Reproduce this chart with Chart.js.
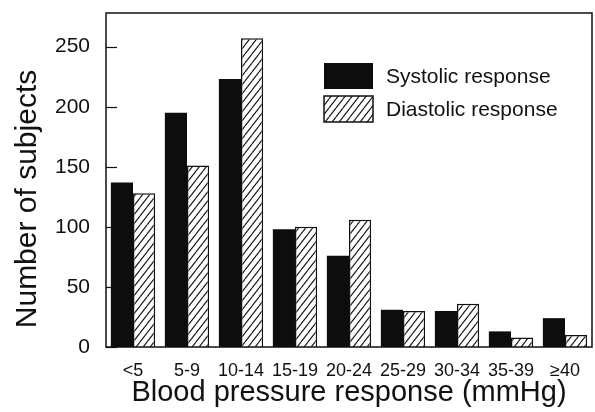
<!DOCTYPE html>
<html>
<head>
<meta charset="utf-8">
<script src="https://cdn.jsdelivr.net/npm/chart.js@4/dist/chart.umd.min.js"></script>
<style>
    html, body { margin: 0; padding: 0; background: #fff; }
    #wrap { width: 595px; height: 412px; }
</style>
</head>
<body>
<div id="wrap"><canvas id="chart" width="595" height="412"></canvas></div>
<script>
// Data
const categories = ['<5', '5-9', '10-14', '15-19', '20-24', '25-29', '30-34', '35-39', '\u226540'];
const systolic = [137, 195, 223, 98, 76, 31, 30, 13, 24];
const diastolic = [128, 151, 257, 100, 106, 30, 36, 8, 10];
const yTicks = [0, 50, 100, 150, 200, 250];
const yMax = 278;

const FONT = '"Liberation Sans", Arial, Helvetica, sans-serif';
const INK = '#111';

// Diagonal hatch fill for the diastolic bars
function makeHatch() {
    const c = document.createElement('canvas');
    c.width = 7;
    c.height = 9;
    const g = c.getContext('2d');
    g.fillStyle = '#fff';
    g.fillRect(0, 0, 7, 9);
    g.strokeStyle = INK;
    g.lineWidth = 1.1;
    [-7, 0, 7].forEach(dx => {
        g.beginPath();
        g.moveTo(dx, 9);
        g.lineTo(dx + 7, 0);
        g.stroke();
    });
    return g.createPattern(c, 'repeat');
}
const hatch = makeHatch();

// Box round the plot, inward ticks, rotated y title and the legend
const decorations = {
    id: 'decorations',
    afterDraw(chart) {
        const ctx = chart.ctx;
        const area = chart.chartArea;
        const yScale = chart.scales.y;
        ctx.save();

        ctx.strokeStyle = INK;
        ctx.lineWidth = 1.5;
        ctx.strokeRect(area.left, area.top, area.right - area.left, area.bottom - area.top);

        ctx.lineWidth = 1.2;
        yTicks.forEach(v => {
            const py = Math.round(yScale.getPixelForValue(v)) + 0.5;
            ctx.beginPath();
            ctx.moveTo(area.left, py);
            ctx.lineTo(area.left + 11, py);
            ctx.stroke();
        });

        // y axis title
        ctx.fillStyle = INK;
        ctx.font = '30px ' + FONT;
        ctx.textAlign = 'center';
        ctx.textBaseline = 'middle';
        ctx.translate(28, 199);
        ctx.rotate(-Math.PI / 2);
        ctx.fillText('Number of subjects', 0, 0);
        ctx.setTransform(1, 0, 0, 1, 0, 0);

        // legend
        const boxX = 324, boxY = 63, boxW = 49, boxH = 26, rowGap = 33;
        ctx.font = '21px ' + FONT;
        ctx.textAlign = 'left';
        chart.data.datasets.forEach((ds, i) => {
            const y = boxY + i * rowGap;
            ctx.fillStyle = ds.backgroundColor;
            ctx.fillRect(boxX, y, boxW, boxH);
            if (ds.borderWidth) {
                ctx.strokeStyle = ds.borderColor;
                ctx.lineWidth = 1.5;
                ctx.strokeRect(boxX, y, boxW, boxH);
            }
            ctx.fillStyle = INK;
            ctx.fillText(ds.label, 386, y + boxH / 2 + 1);
        });

        ctx.restore();
    }
};

new Chart(document.getElementById('chart'), {
    type: 'bar',
    data: {
        labels: categories,
        datasets: [
            {
                label: 'Systolic response',
                data: systolic,
                backgroundColor: '#0d0d0d',
                borderWidth: 0,
                categoryPercentage: 0.82,
                barPercentage: 1
            },
            {
                label: 'Diastolic response',
                data: diastolic,
                backgroundColor: hatch,
                borderColor: INK,
                borderWidth: 1.5,
                borderSkipped: 'bottom',
                categoryPercentage: 0.82,
                barPercentage: 1
            }
        ]
    },
    options: {
        responsive: false,
        animation: false,
        devicePixelRatio: 1,
        layout: {
            padding: { top: 13, right: 3, left: 0, bottom: 0 }
        },
        plugins: {
            legend: { display: false },
            tooltip: { enabled: false }
        },
        scales: {
            x: {
                grid: { display: false, drawTicks: false },
                border: { display: false },
                ticks: {
                    color: INK,
                    padding: 13,
                    maxRotation: 0,
                    autoSkip: false,
                    font: { family: FONT, size: 18 }
                },
                title: {
                    display: true,
                    text: 'Blood pressure response (mmHg)',
                    color: INK,
                    padding: { top: 0, bottom: 2 },
                    font: { family: FONT, size: 29 }
                },
                afterFit: scale => {
                    scale.height = 65;
                    scale.paddingLeft = 0;
                    scale.paddingRight = 0;
                }
            },
            y: {
                min: 0,
                max: yMax,
                grid: { display: false, drawTicks: false },
                border: { display: false },
                ticks: {
                    color: INK,
                    padding: 16,
                    font: { family: FONT, size: 21 }
                },
                afterBuildTicks: scale => {
                    scale.ticks = yTicks.map(v => ({ value: v }));
                },
                afterFit: scale => {
                    scale.width = 106;
                    scale.paddingTop = 0;
                    scale.paddingBottom = 0;
                }
            }
        }
    },
    plugins: [decorations]
});
</script>
</body>
</html>
